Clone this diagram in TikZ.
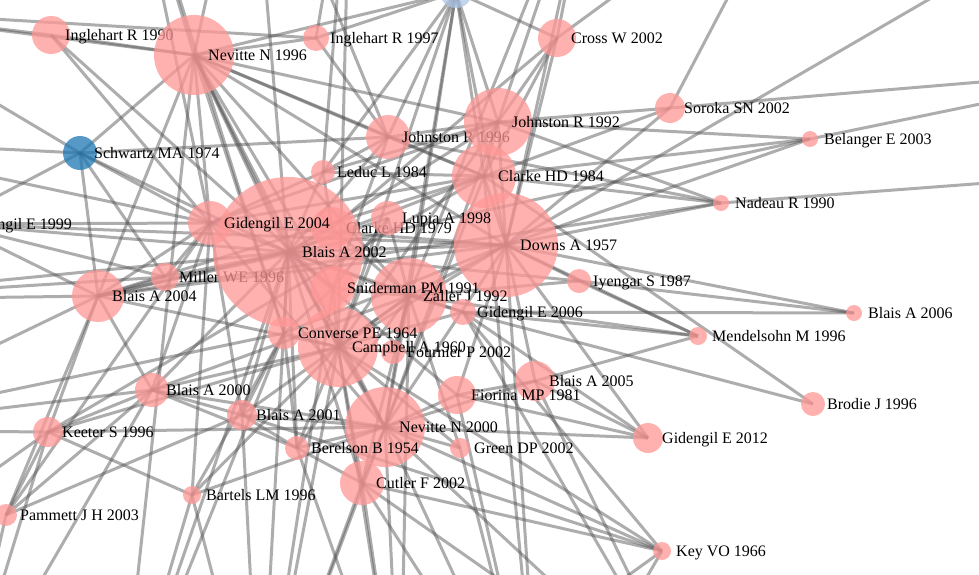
\documentclass[tikz,border=0pt]{standalone}
\usepackage{fontspec}
\setmainfont{Liberation Serif}
\usetikzlibrary{backgrounds}
\definecolor{citered}{HTML}{FF9896}
\definecolor{citeblue}{HTML}{1F77B4}
\definecolor{citesky}{HTML}{AEC7E8}
\tikzstyle{paper} = [circle, inner sep=0pt, outer sep=0pt, fill=citered, fill opacity=0.75]
\tikzstyle{tag} = [anchor=base west, xshift=14pt, yshift=-5.5pt, inner sep=0pt, text=black, font=\fontsize{16pt}{18pt}\selectfont]
\tikzstyle{link} = [draw=black!67, line width=3pt, opacity=0.48]

\begin{document}
\begin{tikzpicture}[x=1pt, y=-1pt]
\useasboundingbox (0,0) rectangle (979,574);

% Papers (later circles lie over earlier labels)
\node (sky) [paper, fill=citesky, minimum size=32pt] at (456,-8) {};
\node (ing90) [paper, minimum size=38pt] at (51,35) {};
\node (ing90t) [tag] at (ing90.center) {Inglehart R 1990};
\node (nev96) [paper, minimum size=80pt] at (194,55) {};
\node (nev96t) [tag] at (nev96.center) {Nevitte N 1996};
\node (ing97) [paper, minimum size=26pt] at (316,38) {};
\node (ing97t) [tag] at (ing97.center) {Inglehart R 1997};
\node (cro02) [paper, minimum size=38pt] at (557,38) {};
\node (cro02t) [tag] at (cro02.center) {Cross W 2002};
\node (jon96) [paper, minimum size=44pt] at (388,137) {};
\node (jon96t) [tag] at (jon96.center) {Johnston R 1996};
\node (jon92) [paper, minimum size=68pt] at (498,122) {};
\node (jon92t) [tag] at (jon92.center) {Johnston R 1992};
\node (sor02) [paper, minimum size=30pt] at (670,108) {};
\node (sor02t) [tag] at (sor02.center) {Soroka SN 2002};
\node (bel03) [paper, minimum size=16pt] at (810,139) {};
\node (bel03t) [tag] at (bel03.center) {Belanger E 2003};
\node (nad90) [paper, minimum size=16pt] at (721,203) {};
\node (nad90t) [tag] at (nad90.center) {Nadeau R 1990};
\node (sch74) [paper, fill=citeblue, minimum size=34pt] at (80,153) {};
\node (sch74t) [tag] at (sch74.center) {Schwartz MA 1974};
\node (led84) [paper, minimum size=24pt] at (323,172) {};
\node (led84t) [tag] at (led84.center) {Leduc L 1984};
\node (cla84) [paper, minimum size=64pt] at (484,176) {};
\node (cla84t) [tag] at (cla84.center) {Clarke HD 1984};
\node (gid99) [paper, minimum size=30pt] at (-48,224) {};
\node (gid99t) [tag] at (gid99.center) {Gidengil E 1999};
\node (cla79) [paper, minimum size=42pt] at (332,228) {};
\node (cla79t) [tag] at (cla79.center) {Clarke HD 1979};
\node (mil96) [paper, minimum size=28pt] at (165,277) {};
\node (mil96t) [tag] at (mil96.center) {Miller WE 1996};
\node (dow57) [paper, minimum size=104pt] at (506,245) {};
\node (dow57t) [tag] at (dow57.center) {Downs A 1957};
\node (bla02) [paper, minimum size=150pt] at (288,252) {};
\node (bla02t) [tag] at (bla02.center) {Blais A 2002};
\node (lup98) [paper, minimum size=34pt] at (388,218) {};
\node (lup98t) [tag] at (lup98.center) {Lupia A 1998};
\node (gid04) [paper, minimum size=44pt] at (210,223) {};
\node (gid04t) [tag] at (gid04.center) {Gidengil E 2004};
\node (zal92) [paper, minimum size=76pt] at (409,296) {};
\node (zal92t) [tag] at (zal92.center) {Zaller J 1992};
\node (sni91) [paper, minimum size=44pt] at (333,288) {};
\node (sni91t) [tag] at (sni91.center) {Sniderman PM 1991};
\node (iye87) [paper, minimum size=24pt] at (579,281) {};
\node (iye87t) [tag] at (iye87.center) {Iyengar S 1987};
\node (gid06) [paper, minimum size=26pt] at (463,312) {};
\node (gid06t) [tag] at (gid06.center) {Gidengil E 2006};
\node (bla04) [paper, minimum size=52pt] at (98,296) {};
\node (bla04t) [tag] at (bla04.center) {Blais A 2004};
\node (fou02) [paper, minimum size=24pt] at (393,352) {};
\node (fou02t) [tag] at (fou02.center) {Fournier P 2002};
\node (cam60) [paper, minimum size=80pt] at (338,347) {};
\node (cam60t) [tag] at (cam60.center) {Campbell A 1960};
\node (con64) [paper, minimum size=32pt] at (284,333) {};
\node (con64t) [tag] at (con64.center) {Converse PE 1964};
\node (bla05) [paper, minimum size=40pt] at (535,381) {};
\node (bla05t) [tag] at (bla05.center) {Blais A 2005};
\node (fio81) [paper, minimum size=38pt] at (457,395) {};
\node (fio81t) [tag] at (fio81.center) {Fiorina MP 1981};
\node (bla06) [paper, minimum size=16pt] at (854,313) {};
\node (bla06t) [tag] at (bla06.center) {Blais A 2006};
\node (men96) [paper, minimum size=18pt] at (698,336) {};
\node (men96t) [tag] at (men96.center) {Mendelsohn M 1996};
\node (bro96) [paper, minimum size=24pt] at (813,404) {};
\node (bro96t) [tag] at (bro96.center) {Brodie J 1996};
\node (gid12) [paper, minimum size=30pt] at (648,438) {};
\node (gid12t) [tag] at (gid12.center) {Gidengil E 2012};
\node (bla00) [paper, minimum size=34pt] at (152,390) {};
\node (bla00t) [tag] at (bla00.center) {Blais A 2000};
\node (bla01) [paper, minimum size=30pt] at (242,415) {};
\node (bla01t) [tag] at (bla01.center) {Blais A 2001};
\node (kee96) [paper, minimum size=30pt] at (48,432) {};
\node (kee96t) [tag] at (kee96.center) {Keeter S 1996};
\node (nev00) [paper, minimum size=80pt] at (385,427) {};
\node (nev00t) [tag] at (nev00.center) {Nevitte N 2000};
\node (ber54) [paper, minimum size=24pt] at (297,448) {};
\node (ber54t) [tag] at (ber54.center) {Berelson B 1954};
\node (gre02) [paper, minimum size=20pt] at (460,448) {};
\node (gre02t) [tag] at (gre02.center) {Green DP 2002};
\node (cut02) [paper, minimum size=44pt] at (362,483) {};
\node (cut02t) [tag] at (cut02.center) {Cutler F 2002};
\node (bar96) [paper, minimum size=18pt] at (192,495) {};
\node (bar96t) [tag] at (bar96.center) {Bartels LM 1996};
\node (pam03) [paper, minimum size=22pt] at (6,515) {};
\node (pam03t) [tag] at (pam03.center) {Pammett J H 2003};
\node (key66) [paper, minimum size=18pt] at (662,551) {};
\node (key66t) [tag] at (key66.center) {Key VO 1966};

% Cited papers outside the view
\coordinate (t1) at (130,-160);
\coordinate (t2) at (250,-200);
\coordinate (t3) at (350,-160);
\coordinate (t4) at (600,-180);
\coordinate (t5) at (800,-140);
\coordinate (t6) at (1100,-100);
\coordinate (l1) at (-160,10);
\coordinate (l2) at (-180,140);
\coordinate (l3) at (-200,300);
\coordinate (l4) at (-180,430);
\coordinate (l5) at (-160,580);
\coordinate (r1) at (1160,67);
\coordinate (r3) at (1160,170);
\coordinate (b1) at (-40,720);
\coordinate (b2) at (120,740);
\coordinate (b3) at (260,760);
\coordinate (b4) at (400,740);
\coordinate (b5) at (540,760);
\coordinate (b6) at (700,720);

% Citation links
\begin{scope}[on background layer]
\fill [white] (0,0) rectangle (979,574);
\clip (0,0) rectangle (979,574);
\foreach \a/\b in {bla02/nev96,bla02/gid04,bla02/cla79,bla02/lup98,bla02/dow57,bla02/sni91,bla02/zal92,bla02/con64,
  bla02/cam60,bla02/nev00,bla02/bla04,bla02/mil96,bla02/bla00,bla02/bla01,bla02/cut02,bla02/ber54,bla02/jon92,
  bla02/jon96,bla02/cla84,bla02/led84,bla02/sch74,bla02/gid06,bla02/fio81,bla02/iye87,bla02/b2,bla02/b3,bla02/t2,
  bla02/l3,bla02/gid99,
  dow57/jon92,dow57/cla84,dow57/cro02,dow57/sor02,dow57/bel03,dow57/nad90,dow57/iye87,dow57/bla06,dow57/men96,
  dow57/zal92,dow57/cam60,dow57/nev00,dow57/con64,dow57/fio81,dow57/gid04,dow57/nev96,dow57/bla04,dow57/t4,
  dow57/t6,dow57/b5,dow57/sky,dow57/gid12,dow57/bla05,
  nev00/cut02,nev00/ber54,nev00/gre02,nev00/fio81,nev00/bla05,nev00/key66,nev00/bla01,nev00/bar96,nev00/b3,
  nev00/b4,nev00/b5,nev00/b6,nev00/cam60,nev00/zal92,nev00/jon92,nev00/cla84,nev00/gid12,nev00/bla00,nev00/kee96,
  nev96/ing90,nev96/ing97,nev96/t1,nev96/t2,nev96/l1,nev96/sch74,nev96/gid04,nev96/jon96,nev96/cla84,nev96/cam60,
  nev96/sni91,nev96/con64,nev96/nev00,nev96/bla04,nev96/b2,nev96/zal92,nev96/jon92,nev96/sky,
  cam60/con64,cam60/sni91,cam60/zal92,cam60/fou02,cam60/ber54,cam60/cut02,cam60/jon92,cam60/t3,cam60/b3,cam60/b4,
  cam60/bla00,cam60/bla04,cam60/kee96,cam60/gid06,cam60/lup98,
  zal92/lup98,zal92/cla79,zal92/sni91,zal92/gid06,zal92/iye87,zal92/fou02,zal92/cut02,zal92/b4,zal92/t4,
  zal92/gre02,zal92/men96,
  con64/sni91,con64/ber54,con64/bla01,con64/bar96,con64/b2,con64/t1,con64/l4,
  sni91/lup98,sni91/jon96,sni91/b3,sni91/ing90,
  jon92/jon96,jon92/cla84,jon92/sor02,jon92/cro02,jon92/sky,jon92/bel03,jon92/nad90,jon92/t4,
  jon92/led84,jon92/gid04,
  cla84/jon96,cla84/cro02,cla84/sky,cla84/sor02,cla84/nad90,cla84/bel03,cla84/led84,cla84/gid04,cla84/b5,cla84/bro96,
  jon96/ing97,jon96/led84,jon96/sky,jon96/nad90,jon96/t2,jon96/sch74,
  sor02/r1,sor02/t5,bel03/r1,bel03/bla04,nad90/r3,nad90/bla04,
  iye87/bla06,iye87/men96,gid06/men96,gid06/bla06,gid06/bro96,gid06/gid12,gid06/key66,gid06/b6,
  bla05/men96,bla05/gid12,bla05/b6,fio81/gid12,fio81/bla05,fio81/b5,
  key66/cut02,key66/bla01,key66/cam60,key66/b5,key66/b4,gre02/b5,gre02/cam60,
  bla04/gid99,bla04/l3,bla04/l4,bla04/sch74,bla04/mil96,bla04/gid04,bla04/kee96,bla04/pam03,bla04/bla00,bla04/cla84,
  bla00/kee96,bla00/pam03,bla00/l4,bla00/bla01,bla00/gid04,bla00/b1,bla00/zal92,
  kee96/l4,kee96/bar96,kee96/pam03,kee96/b1,kee96/l5,kee96/cla84,
  pam03/b1,pam03/bla01,pam03/gid04,
  bar96/b2,bar96/b3,bar96/cam60,bar96/gid04,
  bla01/ber54,bla01/b3,bla01/gid04,bla01/zal92,
  ber54/cut02,ber54/b4,ber54/zal92,ber54/bla00,
  cut02/b3,cut02/b4,cut02/b5,cut02/b6,
  gid04/gid99,gid04/sch74,gid04/led84,gid04/mil96,gid04/l2,gid04/t1,gid04/nev00,
  mil96/l3,mil96/gid99,mil96/sch74,
  led84/t3,led84/sky,led84/cla79,
  ing97/t3,ing97/sky,ing97/l1,
  ing90/l1,ing90/gid04,
  sch74/l2,sch74/l1,sch74/l3,
  cro02/t4,cro02/t5,cro02/sky,cro02/cla79,
  sky/zal92,sky/cam60,sky/nev00,sky/t3,
  gid99/dow57,gid99/l2}
  \draw [link] (\a.center) -- (\b.center);
\end{scope}

\end{tikzpicture}
\end{document}
